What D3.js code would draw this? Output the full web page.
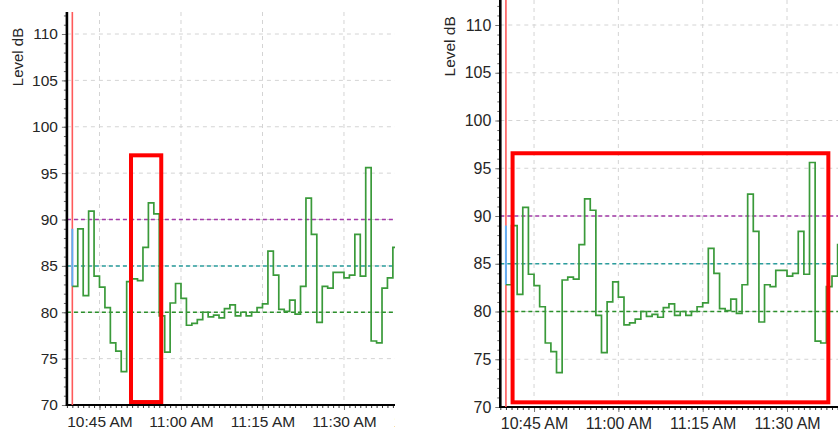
<!DOCTYPE html>
<html>
<head>
<meta charset="utf-8">
<script src="https://cdn.jsdelivr.net/npm/d3@7/dist/d3.min.js"></script>
<style>
  body { margin: 0; background: #fff; }
  svg { display: block; }
  text { font-family: "Liberation Sans", Arial, sans-serif; fill: #262626; }
</style>
</head>
<body>
<svg id="chart" width="838" height="436"></svg>
<script>
// one reading per minute, the level holds until the next reading
let times = ['10:40','10:41','10:42','10:43','10:44','10:45','10:46','10:47','10:48','10:49',
             '10:50','10:51','10:52','10:53','10:54','10:55','10:56','10:57','10:58','10:59',
             '11:00','11:01','11:02','11:03','11:04','11:05','11:06','11:07','11:08','11:09',
             '11:10','11:11','11:12','11:13','11:14','11:15','11:16','11:17','11:18','11:19',
             '11:20','11:21','11:22','11:23','11:24','11:25','11:26','11:27','11:28','11:29',
             '11:30','11:31','11:32','11:33','11:34','11:35','11:36','11:37','11:38','11:39'];
let levels = [82.8, 89.0, 81.8, 90.9, 83.9, 82.7, 80.5, 76.7, 75.8, 73.6,
              83.3, 83.6, 83.4, 87.0, 91.8, 90.6, 79.6, 75.7, 81.0, 83.1,
              81.5, 78.6, 78.8, 79.2, 80.0, 79.5, 79.7, 79.4, 80.4, 80.8,
              79.6, 80.0, 79.6, 80.0, 80.5, 80.9, 86.6, 84.0, 80.3, 80.1,
              81.3, 79.8, 82.8, 92.3, 88.4, 78.9, 82.8, 82.6, 84.3, 84.3,
              83.7, 84.0, 88.4, 83.9, 95.6, 76.9, 76.7, 82.6, 83.7, 87.0];
let endTime = '11:40';
let leadLevel = 89.0;      // level before the first reading (blue)
let markerTime = '10:40';

let yTicks = [70, 75, 80, 85, 90, 95, 100, 105, 110];
let limitValues = [90, 85, 80];
let limitColors = ['#a33aa8', '#2a9d9d', '#2b8f2b'];

// red boxes drawn over each copy of the chart
let boxLeft = {from: '10:50:48', to: '10:56:22', low: 70.32, high: 96.92};
let boxRight = {from: '10:41:11', to: '11:37:21', low: 70.49, high: 96.57};

let axisStart = '10:39';
let axisEnd = '11:50';

let parseTime = d3.timeParse('%H:%M:%S');
let t = (s) => parseTime(s.length === 5 ? s + ':00' : s);

let points = times.map((s, i) => ({time: t(s), level: levels[i]}));
points.push({time: t(endTime), level: levels[levels.length - 1]});

let svg = d3.select('#chart');

let panels = [
  {id: 'left', x0: 66.9, minPx: 5.433, y0: 405, dbPx: 9.275, top: 12, clipW: 395, box: boxLeft, k: 1},
  {id: 'right', x0: 500.3, minPx: 5.622, y0: 407, dbPx: 9.55, top: 0, clipW: 838, box: boxRight, k: 1.03}
];

let drawPanel = (p) => {
  svg.append('clipPath').attr('id', 'clip-' + p.id)
    .append('rect').attr('x', 0).attr('y', 0).attr('width', p.clipW).attr('height', 436);
  let g = svg.append('g').attr('clip-path', `url(#clip-${p.id})`);

  let span = (t(axisEnd) - t(axisStart)) / 60000;
  let x = d3.scaleTime()
    .domain([t(axisStart), t(axisEnd)])
    .range([p.x0, p.x0 + span * p.minPx]);
  let y = d3.scaleLinear()
    .domain([70, 70 + (p.y0 - p.top) / p.dbPx])
    .range([p.y0, p.top]);

  let majorX = x.ticks(d3.timeMinute.every(15));

  // grid
  g.append('g').selectAll('line').data(yTicks.filter(v => v !== 70)).enter().append('line')
    .attr('x1', p.x0).attr('x2', p.clipW + 10)
    .attr('y1', d => y(d)).attr('y2', d => y(d))
    .attr('stroke', '#d4d4d4').attr('stroke-dasharray', '4,4');
  g.append('g').selectAll('line').data(majorX).enter().append('line')
    .attr('x1', d => x(d)).attr('x2', d => x(d))
    .attr('y1', p.top).attr('y2', p.y0)
    .attr('stroke', '#d4d4d4').attr('stroke-dasharray', '4,4');

  // limit lines
  g.append('g').selectAll('line').data(limitValues).enter().append('line')
    .attr('x1', p.x0).attr('x2', p.clipW + 10)
    .attr('y1', d => y(d)).attr('y2', d => y(d))
    .attr('stroke', (d, i) => limitColors[i])
    .attr('stroke-width', 1.5)
    .attr('stroke-dasharray', '4,3');

  // minor ticks
  g.append('g').attr('transform', `translate(${p.x0},0)`)
    .call(d3.axisLeft(y).ticks(45).tickSize(3).tickFormat(''))
    .call(a => a.select('.domain').remove())
    .selectAll('line').attr('stroke', '#666');
  g.append('g').attr('transform', `translate(0,${p.y0})`)
    .call(d3.axisBottom(x).ticks(d3.timeMinute.every(1)).tickSize(3).tickFormat(''))
    .call(a => a.select('.domain').remove())
    .selectAll('line').attr('stroke', '#333');

  // major axes
  let yAxis = g.append('g').attr('transform', `translate(${p.x0},0)`)
    .call(d3.axisLeft(y).tickValues(yTicks).tickSize(5).tickPadding(4));
  yAxis.select('.domain').remove();
  yAxis.selectAll('line').attr('stroke', '#777');
  yAxis.selectAll('text').attr('font-size', 15.5 * p.k).attr('font-family', null).attr('fill', null);

  let xAxis = g.append('g').attr('transform', `translate(0,${p.y0})`)
    .call(d3.axisBottom(x).ticks(d3.timeMinute.every(15)).tickFormat(d3.timeFormat('%-I:%M %p')).tickSize(5).tickPadding(6));
  xAxis.select('.domain').remove();
  xAxis.selectAll('line').attr('stroke', '#777');
  xAxis.selectAll('text').attr('font-size', 15.5 * p.k).attr('font-family', null).attr('fill', null);

  g.append('line')
    .attr('x1', p.x0).attr('x2', p.x0).attr('y1', p.top).attr('y2', p.y0 + 1)
    .attr('stroke', '#000').attr('stroke-width', 2.6);
  g.append('line')
    .attr('x1', p.x0 - 1).attr('x2', p.clipW + 10).attr('y1', p.y0).attr('y2', p.y0)
    .attr('stroke', '#000').attr('stroke-width', 2);

  g.append('text')
    .attr('transform', `translate(${p.x0 - 44 * p.k},${p.top + 45 * p.k}) rotate(-90)`)
    .attr('text-anchor', 'middle')
    .attr('font-size', 15 * p.k)
    .text('Level dB');

  // time marker
  g.append('line')
    .attr('x1', x(t(markerTime))).attr('x2', x(t(markerTime)))
    .attr('y1', p.top).attr('y2', p.y0)
    .attr('stroke', '#ff5a5a').attr('stroke-width', 1.6);

  // lead-in
  g.append('line')
    .attr('x1', x(points[0].time)).attr('x2', x(points[0].time))
    .attr('y1', y(leadLevel)).attr('y2', y(points[0].level))
    .attr('stroke', '#62aef5').attr('stroke-width', 2);

  let line = d3.line()
    .x(d => x(d.time))
    .y(d => y(d.level))
    .curve(d3.curveStepAfter);
  g.append('path')
    .datum(points)
    .attr('d', line)
    .attr('fill', 'none')
    .attr('stroke', '#3a9a3a')
    .attr('stroke-width', 1.7);

  let b = p.box;
  g.append('rect')
    .attr('x', x(t(b.from)))
    .attr('y', y(b.high))
    .attr('width', x(t(b.to)) - x(t(b.from)))
    .attr('height', y(b.low) - y(b.high))
    .attr('fill', 'none')
    .attr('stroke', '#ff0000')
    .attr('stroke-width', 4);
};

panels.forEach(drawPanel);
</script>
</body>
</html>
